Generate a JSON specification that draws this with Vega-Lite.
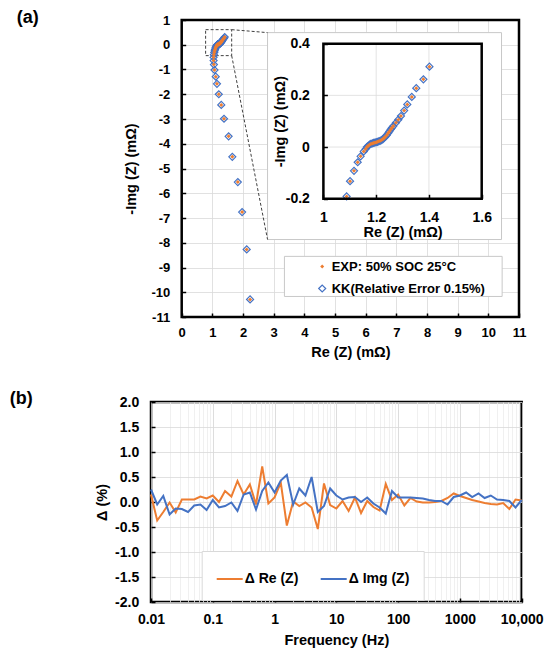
{
  "$schema": "https://vega.github.io/schema/vega-lite/v6.json",
  "background": "white",
  "padding": {"left": 8, "top": 8, "right": 5, "bottom": 5},
  "spacing": 28,
  "config": {
    "font": "Liberation Sans",
    "view": {"stroke": "#000", "strokeWidth": 2.5},
    "axis": {
      "domain": false,
      "labelFont": "Liberation Sans", "titleFont": "Liberation Sans",
      "labelFontWeight": "bold", "titleFontWeight": "bold",
      "labelColor": "#000", "titleColor": "#000",
      "labelFontSize": 13, "titleFontSize": 14.5,
      "labelFlush": false, "labelOverlap": false,
      "tickColor": "#000", "tickWidth": 1.5, "tickSize": -4,
      "gridColor": "#d9d9d9", "gridWidth": 0.8
    }
  },
  "datasets": {
    "nyq": [
      {"x": 2.23, "y": -10.29}, {"x": 2.12, "y": -8.27}, {"x": 1.97, "y": -6.76}, {"x": 1.83, "y": -5.55},
      {"x": 1.65, "y": -4.53}, {"x": 1.53, "y": -3.7}, {"x": 1.38, "y": -2.99}, {"x": 1.29, "y": -2.43},
      {"x": 1.21, "y": -2.0}, {"x": 1.15, "y": -1.58}, {"x": 1.11, "y": -1.29}, {"x": 1.07, "y": -1.02},
      {"x": 1.05, "y": -0.8}, {"x": 1.04, "y": -0.64}, {"x": 1.04, "y": -0.51}, {"x": 1.05, "y": -0.4},
      {"x": 1.062, "y": -0.31}, {"x": 1.074, "y": -0.245}, {"x": 1.088, "y": -0.191}, {"x": 1.101, "y": -0.132},
      {"x": 1.116, "y": -0.092}, {"x": 1.13, "y": -0.059}, {"x": 1.141, "y": -0.036}, {"x": 1.153, "y": -0.017},
      {"x": 1.16, "y": -0.008}, {"x": 1.165, "y": 0.0}, {"x": 1.17, "y": 0.005}, {"x": 1.175, "y": 0.009},
      {"x": 1.18, "y": 0.012}, {"x": 1.185, "y": 0.014}, {"x": 1.19, "y": 0.016}, {"x": 1.195, "y": 0.017},
      {"x": 1.2, "y": 0.019}, {"x": 1.205, "y": 0.02}, {"x": 1.21, "y": 0.022}, {"x": 1.215, "y": 0.024},
      {"x": 1.22, "y": 0.027}, {"x": 1.225, "y": 0.03}, {"x": 1.23, "y": 0.035}, {"x": 1.235, "y": 0.04},
      {"x": 1.24, "y": 0.046}, {"x": 1.245, "y": 0.053}, {"x": 1.25, "y": 0.06}, {"x": 1.255, "y": 0.068},
      {"x": 1.26, "y": 0.075}, {"x": 1.265, "y": 0.081}, {"x": 1.275, "y": 0.094}, {"x": 1.284, "y": 0.106},
      {"x": 1.294, "y": 0.12}, {"x": 1.306, "y": 0.141}, {"x": 1.318, "y": 0.165}, {"x": 1.335, "y": 0.194},
      {"x": 1.352, "y": 0.228}, {"x": 1.379, "y": 0.262}, {"x": 1.402, "y": 0.311}
    ]
  },
  "vconcat": [
    {
      "width": 368,
      "height": 297,
      "view": {"stroke": null},
      "title": {"text": "(a)", "anchor": "start", "frame": "group", "offset": 0, "dx": -134.3, "dy": 26.5,
        "baseline": "alphabetic", "fontSize": 18, "fontWeight": "bold", "font": "Liberation Sans", "color": "#000"},
      "layer": [
        {
          "encoding": {
            "x": {"field": "x", "type": "quantitative",
              "scale": {"domain": [0, 11], "range": [30.7, 368], "nice": false, "zero": false},
              "axis": {"title": "Re (Z) (mΩ)", "values": [0, 1, 2, 3, 4, 5, 6, 7, 8, 9, 10, 11],
                "labelExpr": "datum.value + ''", "labelPadding": 13.8, "titlePadding": 6}},
            "y": {"field": "y", "type": "quantitative",
              "scale": {"domain": [-11, 1], "nice": false, "zero": false},
              "axis": {"title": "-Img (Z) (mΩ)", "offset": -30.7, "values": [-11, -10, -9, -8, -7, -6, -5, -4, -3, -2, -1, 0, 1],
                "labelExpr": "datum.value + ''", "labelPadding": 16, "titlePadding": 12}}
          },
          "layer": [
            {
              "data": {"values": [
                {"x": 2.8, "x2": 10.43, "y": 0.49, "y2": -7.87},
                {"x": 3.35, "x2": 10.45, "y": -8.55, "y2": -10.17}
              ]},
              "mark": {"type": "rect", "fill": "white", "stroke": "#c8c8c8", "strokeWidth": 1},
              "encoding": {"x2": {"field": "x2"}, "y2": {"field": "y2"}}
            },
            {
              "data": {"values": [{"x": 0.78, "x2": 1.63, "y": 0.61, "y2": -0.44}]},
              "mark": {"type": "rect", "fill": "transparent", "stroke": "#404040", "strokeWidth": 1, "strokeDash": [3, 2]},
              "encoding": {"x2": {"field": "x2"}, "y2": {"field": "y2"}}
            },
            {
              "data": {"values": [
                {"x": 1.63, "y": 0.61, "x2": 2.8, "y2": 0.49},
                {"x": 1.63, "y": -0.44, "x2": 2.8, "y2": -7.87}
              ]},
              "mark": {"type": "rule", "stroke": "#404040", "strokeWidth": 1, "strokeDash": [3, 2]},
              "encoding": {"x2": {"field": "x2"}, "y2": {"field": "y2"}}
            },
            {
              "data": {"name": "nyq"},
              "mark": {"type": "point", "shape": "diamond", "filled": true, "opacity": 1, "strokeWidth": 1.2},
              "encoding": {
                "fill": {"datum": "KK(Relative Error 0.15%)",
                  "scale": {"domain": ["EXP: 50% SOC 25°C", "KK(Relative Error 0.15%)"], "range": ["#ED7D31", "transparent"]},
                  "legend": {"title": null}},
                "stroke": {"datum": "KK(Relative Error 0.15%)",
                  "scale": {"domain": ["EXP: 50% SOC 25°C", "KK(Relative Error 0.15%)"], "range": ["transparent", "#4472C4"]},
                  "legend": {"title": null}},
                "size": {"datum": "KK(Relative Error 0.15%)", "type": "ordinal",
                  "scale": {"type": "ordinal", "domain": ["EXP: 50% SOC 25°C", "KK(Relative Error 0.15%)"], "range": [16, 49]},
                  "legend": {"title": null}}
              }
            },
            {
              "data": {"name": "nyq"},
              "mark": {"type": "point", "shape": "diamond", "filled": true, "opacity": 1, "strokeWidth": 1.2},
              "encoding": {
                "fill": {"datum": "EXP: 50% SOC 25°C",
                  "scale": {"domain": ["EXP: 50% SOC 25°C", "KK(Relative Error 0.15%)"], "range": ["#ED7D31", "transparent"]},
                  "legend": {"title": null, "orient": "none", "legendX": 164.7, "legendY": 240,
                    "symbolType": "diamond", "symbolStrokeWidth": 1.2, "padding": 0, "rowPadding": 8, "labelOffset": 3,
                    "labelFont": "Liberation Sans", "labelFontSize": 13, "labelFontWeight": "bold", "labelColor": "#000", "labelLimit": 300}},
                "stroke": {"datum": "EXP: 50% SOC 25°C",
                  "scale": {"domain": ["EXP: 50% SOC 25°C", "KK(Relative Error 0.15%)"], "range": ["transparent", "#4472C4"]},
                  "legend": {"title": null}},
                "size": {"datum": "EXP: 50% SOC 25°C", "type": "ordinal",
                  "scale": {"type": "ordinal", "domain": ["EXP: 50% SOC 25°C", "KK(Relative Error 0.15%)"], "range": [16, 49]},
                  "legend": {"title": null}}
              }
            },
            {
              "data": {"values": [{"x": 0, "x2": 11, "y": -11, "y2": 1}]},
              "mark": {"type": "rect", "fill": "transparent", "stroke": "#000", "strokeWidth": 2.5},
              "encoding": {"x2": {"field": "x2"}, "y2": {"field": "y2"}}
            }
          ]
        },
        {
          "encoding": {
            "x": {"field": "x", "type": "quantitative",
              "scale": {"domain": [1, 1.6], "range": [172.4, 330.7], "nice": false, "zero": false},
              "axis": {"orient": "bottom", "offset": -118.7, "zindex": 1, "title": "Re (Z) (mΩ)", "values": [1, 1.2, 1.4, 1.6], "grid": false,
                "labelExpr": "datum.value + ''", "labelFontSize": 14, "labelPadding": 16, "titlePadding": 1}},
            "y": {"field": "y", "type": "quantitative",
              "scale": {"domain": [-0.2, 0.4], "range": [178.7, 23.7], "nice": false, "zero": false},
              "axis": {"orient": "left", "offset": -172.4, "zindex": 1, "title": "-Img (Z) (mΩ)", "values": [-0.2, 0, 0.2, 0.4], "grid": false,
                "labelExpr": "datum.value + ''", "labelFontSize": 14, "labelPadding": 18, "titlePadding": -2}}
          },
          "layer": [
            {
              "data": {"values": [
                {"x": 1.2, "x2": 1.2, "y": -0.2, "y2": 0.4},
                {"x": 1.4, "x2": 1.4, "y": -0.2, "y2": 0.4},
                {"x": 1, "x2": 1.6, "y": 0, "y2": 0},
                {"x": 1, "x2": 1.6, "y": 0.2, "y2": 0.2}
              ]},
              "mark": {"type": "rule", "stroke": "#dcdcdc", "strokeWidth": 0.8},
              "encoding": {"x2": {"field": "x2"}, "y2": {"field": "y2"}}
            },
            {
              "data": {"name": "nyq"},
              "transform": [{"filter": "datum.x >= 1 && datum.x <= 1.6 && datum.y >= -0.2 && datum.y <= 0.4"}],
              "mark": {"type": "point", "shape": "diamond", "filled": false, "opacity": 1, "stroke": "#4472C4", "strokeWidth": 1.2, "size": 49}
            },
            {
              "data": {"name": "nyq"},
              "transform": [{"filter": "datum.x >= 1 && datum.x <= 1.6 && datum.y >= -0.2 && datum.y <= 0.4"}],
              "mark": {"type": "point", "shape": "diamond", "filled": true, "opacity": 1, "fill": "#ED7D31", "strokeWidth": 0, "size": 16}
            },
            {
              "data": {"values": [{"x": 1, "x2": 1.6, "y": -0.2, "y2": 0.4}]},
              "mark": {"type": "rect", "fill": "transparent", "stroke": "#000", "strokeWidth": 2.5},
              "encoding": {"x2": {"field": "x2"}, "y2": {"field": "y2"}}
            }
          ]
        }
      ],
      "resolve": {"scale": {"x": "independent", "y": "independent"}}
    },
    {
      "width": 370.7,
      "height": 200,
      "title": {"text": "(b)", "anchor": "start", "frame": "group", "offset": 0, "dx": -141.3, "dy": 26.5,
        "baseline": "alphabetic", "fontSize": 18, "fontWeight": "bold", "font": "Liberation Sans", "color": "#000"},
      "data": {"values": [
        {"f": 0.01, "re": 0.15, "im": 0.25}, {"f": 0.0126, "re": -0.37, "im": -0.05}, {"f": 0.0158, "re": -0.2, "im": 0.12},
        {"f": 0.02, "re": -0.01, "im": -0.25}, {"f": 0.0251, "re": -0.21, "im": -0.13}, {"f": 0.0316, "re": 0.05, "im": -0.14},
        {"f": 0.0398, "re": 0.05, "im": -0.2}, {"f": 0.0501, "re": 0.05, "im": -0.07}, {"f": 0.0631, "re": 0.11, "im": -0.05},
        {"f": 0.0794, "re": 0.07, "im": -0.16}, {"f": 0.1, "re": 0.13, "im": 0.04}, {"f": 0.126, "re": 0.0, "im": -0.11},
        {"f": 0.158, "re": 0.22, "im": -0.08}, {"f": 0.2, "re": 0.11, "im": -0.01}, {"f": 0.251, "re": 0.42, "im": -0.18},
        {"f": 0.316, "re": 0.15, "im": 0.15}, {"f": 0.398, "re": 0.35, "im": 0.19}, {"f": 0.501, "re": -0.05, "im": -0.15},
        {"f": 0.631, "re": 0.71, "im": 0.22}, {"f": 0.794, "re": -0.03, "im": 0.39}, {"f": 1, "re": 0.09, "im": 0.19},
        {"f": 1.26, "re": 0.39, "im": 0.43}, {"f": 1.58, "re": -0.47, "im": 0.54}, {"f": 2, "re": 0.01, "im": -0.05},
        {"f": 2.51, "re": -0.08, "im": 0.27}, {"f": 3.16, "re": -0.01, "im": 0.13}, {"f": 3.98, "re": -0.11, "im": 0.5},
        {"f": 5.01, "re": -0.54, "im": -0.2}, {"f": 6.31, "re": 0.37, "im": -0.08}, {"f": 7.94, "re": -0.06, "im": 0.27},
        {"f": 10, "re": -0.13, "im": 0.13}, {"f": 12.6, "re": 0.02, "im": 0.05}, {"f": 15.8, "re": -0.18, "im": 0.09},
        {"f": 20, "re": 0.09, "im": 0.1}, {"f": 25.1, "re": -0.22, "im": 0.0}, {"f": 31.6, "re": 0.02, "im": 0.09},
        {"f": 39.8, "re": -0.1, "im": -0.03}, {"f": 50.1, "re": -0.17, "im": -0.11}, {"f": 63.1, "re": 0.36, "im": -0.23},
        {"f": 79.4, "re": 0.04, "im": 0.22}, {"f": 100, "re": 0.15, "im": 0.09}, {"f": 126, "re": -0.07, "im": 0.09},
        {"f": 158, "re": 0.08, "im": 0.09}, {"f": 200, "re": 0.01, "im": 0.08}, {"f": 251, "re": -0.01, "im": 0.07},
        {"f": 316, "re": -0.01, "im": 0.04}, {"f": 398, "re": 0.0, "im": 0.02}, {"f": 501, "re": 0.02, "im": 0.02},
        {"f": 631, "re": 0.08, "im": -0.05}, {"f": 794, "re": 0.17, "im": 0.1}, {"f": 1000, "re": 0.12, "im": 0.13},
        {"f": 1260, "re": 0.08, "im": 0.19}, {"f": 1580, "re": 0.04, "im": 0.1}, {"f": 2000, "re": 0.01, "im": 0.17},
        {"f": 2510, "re": -0.02, "im": 0.08}, {"f": 3160, "re": -0.04, "im": 0.13}, {"f": 3980, "re": -0.05, "im": 0.05},
        {"f": 5010, "re": -0.02, "im": 0.04}, {"f": 6310, "re": -0.14, "im": 0.02}, {"f": 7940, "re": 0.05, "im": -0.11},
        {"f": 10000, "re": 0.03, "im": 0.04}
      ]},
      "transform": [{"fold": ["re", "im"], "as": ["s", "v"]}],
      "mark": {"type": "line", "strokeWidth": 2},
      "encoding": {
        "x": {"field": "f", "type": "quantitative",
          "scale": {"type": "log", "domain": [0.01, 10000], "nice": false},
          "axis": {"title": "Frequency (Hz)", "labelFontSize": 14, "labelPadding": 14, "titlePadding": 7,
            "values": [0.01, 0.02, 0.03, 0.04, 0.05, 0.06, 0.07, 0.08, 0.09, 0.1, 0.2, 0.3, 0.4, 0.5, 0.6, 0.7, 0.8, 0.9,
              1, 2, 3, 4, 5, 6, 7, 8, 9, 10, 20, 30, 40, 50, 60, 70, 80, 90, 100, 200, 300, 400, 500, 600, 700, 800, 900,
              1000, 2000, 3000, 4000, 5000, 6000, 7000, 8000, 9000, 10000],
            "labelExpr": "datum.value == 10000 ? '10,000' : (indexof([0.01, 0.1, 1, 10, 100, 1000], datum.value) >= 0 ? datum.value + '' : '')",
            "gridColor": {"condition": {"test": "indexof([0.01, 0.1, 1, 10, 100, 1000, 10000], datum.value) >= 0", "value": "#d4d4d4"}, "value": "#ececec"},
            "tickOpacity": {"condition": {"test": "indexof([0.01, 0.1, 1, 10, 100, 1000, 10000], datum.value) >= 0", "value": 1}, "value": 0}}},
        "y": {"field": "v", "type": "quantitative",
          "scale": {"domain": [-2, 2], "nice": false, "zero": false},
          "axis": {"title": "Δ (%)", "labelFontSize": 14, "labelPadding": 16.3, "titlePadding": 5,
            "values": [-2, -1.5, -1, -0.5, 0, 0.5, 1, 1.5, 2], "format": ".1f",
            "labelExpr": "replace(datum.label, '−', '-')"}},
        "color": {"field": "s", "type": "nominal",
          "scale": {"domain": ["re", "im"], "range": ["#ED7D31", "#4472C4"]},
          "legend": {"title": null, "orient": "none", "legendX": 50.7, "legendY": 149, "direction": "horizontal",
            "fillColor": "white", "strokeColor": "#d9d9d9", "padding": 14,
            "symbolType": "stroke", "symbolSize": 676, "symbolStrokeWidth": 2, "labelOffset": 1, "columnPadding": 18,
            "labelFont": "Liberation Sans", "labelFontSize": 14, "labelFontWeight": "bold", "labelColor": "#000",
            "labelExpr": "datum.value == 're' ? 'Δ Re (Z)' : 'Δ Img (Z)'"}}
      }
    }
  ],
  "resolve": {"scale": {"color": "independent", "fill": "independent", "stroke": "independent", "size": "independent"}}
}
